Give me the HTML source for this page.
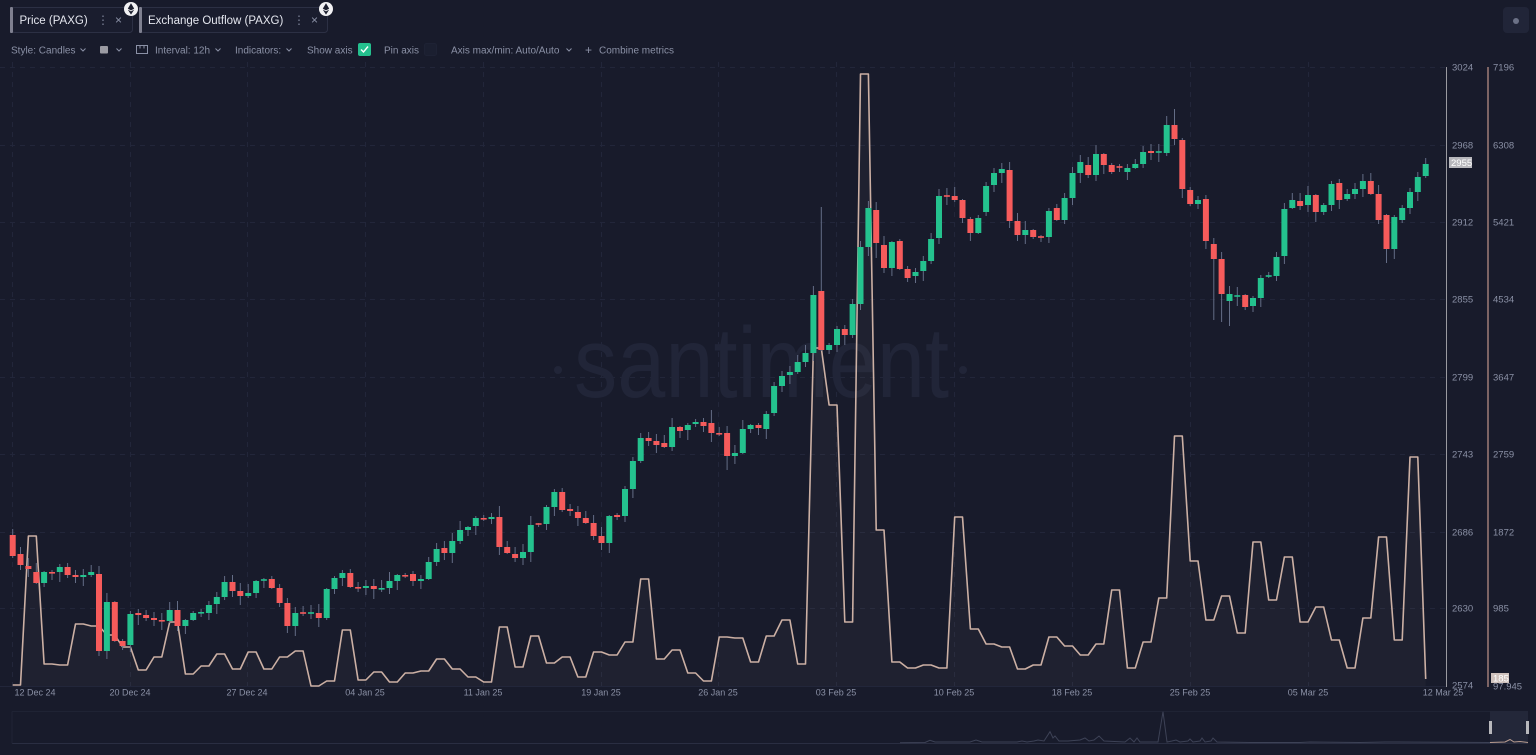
<!DOCTYPE html>
<html><head><meta charset="utf-8">
<style>
html,body{margin:0;padding:0;background:#181b2b;width:1536px;height:755px;overflow:hidden;}
svg text{font-family:"Liberation Sans",Arial,sans-serif;}
</style></head><body>
<svg id="c" width="1536" height="755" viewBox="0 0 1536 755" xmlns="http://www.w3.org/2000/svg" style="position:absolute;left:0;top:0;display:block">
<rect x="0" y="0" width="1536" height="755" fill="#181b2b"/>

<!-- Tabs -->
<rect x="11.5" y="7.5" width="121" height="25" rx="3" fill="#1a1d2e" stroke="#2c3044"/>
<rect x="10" y="7" width="3" height="26" rx="1" fill="#7f8090"/>
<text x="19.5" y="24" font-size="11.5" fill="#e4e6ee">Price (PAXG)</text>
<text x="97" y="24" font-size="12" fill="#7d8398">⋮</text>
<text x="115" y="24" font-size="12" fill="#8b91a6">×</text>
<circle cx="131" cy="9" r="7" fill="#f2f2f4"/>
<polygon points="131,3.2 134.2,8.6 131,10.4 127.8,8.6" fill="#1b1e2e"/>
<polygon points="127.8,9.6 131,11.4 134.2,9.6 131,14.6" fill="#1b1e2e"/>

<rect x="140.5" y="7.5" width="187" height="25" rx="3" fill="#1a1d2e" stroke="#2c3044"/>
<rect x="139" y="7" width="3" height="26" rx="1" fill="#7f8090"/>
<text x="148" y="24" font-size="11.5" fill="#e4e6ee">Exchange Outflow (PAXG)</text>
<text x="293" y="24" font-size="12" fill="#7d8398">⋮</text>
<text x="311" y="24" font-size="12" fill="#8b91a6">×</text>
<circle cx="326" cy="9" r="7" fill="#f2f2f4"/>
<polygon points="326,3.2 329.2,8.6 326,10.4 322.8,8.6" fill="#1b1e2e"/>
<polygon points="322.8,9.6 326,11.4 329.2,9.6 326,14.6" fill="#1b1e2e"/>

<!-- top right button -->
<rect x="1503" y="7" width="26" height="26" rx="4" fill="#212538"/>
<circle cx="1516" cy="21" r="3" fill="#6b7186"/>

<!-- Toolbar row -->
<g font-size="10" fill="#8b91a6">
<text x="11" y="53.5">Style: Candles</text>
<text x="155" y="53.5">Interval: 12h</text>
<text x="235" y="53.5">Indicators:</text>
<text x="307" y="53.5">Show axis</text>
<text x="384" y="53.5">Pin axis</text>
<text x="451" y="53.5">Axis max/min: Auto/Auto</text>
<text x="585" y="54" font-size="12">+</text>
<text x="599" y="53.5">Combine metrics</text>
</g>
<g stroke="#8b91a6" stroke-width="1" fill="none">
<polyline points="80.5,48.5 83,51 85.5,48.5"/>
<polyline points="116.5,48.5 119,51 121.5,48.5"/>
<polyline points="215.5,48.5 218,51 220.5,48.5"/>
<polyline points="286.5,48.5 289,51 291.5,48.5"/>
<polyline points="566.5,48.5 569,51 571.5,48.5"/>
<rect x="136.5" y="45.5" width="11" height="8"/>
<line x1="140" y1="45.5" x2="140" y2="48.5"/>
<line x1="144" y1="45.5" x2="144" y2="48.5"/>
</g>
<rect x="100" y="46" width="8" height="7.5" rx="1" fill="#9b9ba3"/>
<rect x="358" y="43" width="13" height="13" rx="2" fill="#24c08e"/>
<polyline points="361,49.5 363.5,52 368,46.5" stroke="#ffffff" stroke-width="1.4" fill="none"/>
<rect x="424.5" y="43.5" width="12" height="12" rx="2" fill="#1b1f30" stroke="#1e2234"/>

<!-- grid -->
<g id="grid" stroke="#22263a" stroke-width="1" stroke-dasharray="5 5"></g>
<line x1="0" y1="686.5" x2="1446" y2="686.5" stroke="#22263a"/>

<!-- watermark -->
<text x="574" y="397" font-size="100" fill="#212538" textLength="375" lengthAdjust="spacingAndGlyphs">santiment</text>
<circle cx="558" cy="370" r="4" fill="#212538"/>
<circle cx="963" cy="370" r="4" fill="#212538"/>

<g id="area"></g>
<g id="cand"></g>

<!-- axes -->
<line x1="1446.5" y1="67" x2="1446.5" y2="687" stroke="#9a9aa0" stroke-width="1"/>
<line x1="1488" y1="67" x2="1488" y2="687" stroke="#7d6464" stroke-width="2"/>
<g id="labels" font-size="9.5" fill="#8a90a5"></g>

<rect x="1449" y="157" width="23" height="11" fill="#b7b7bc"/>
<text x="1451" y="165.8" font-size="9.5" fill="#ffffff">2955</text>
<rect x="1491" y="673" width="18" height="10" fill="#cfc2bd"/>
<text x="1493" y="681.5" font-size="9.5" fill="#ffffff">185</text>

<!-- navigator -->
<line x1="12" y1="711.5" x2="1528" y2="711.5" stroke="#1f2334"/>
<line x1="12" y1="743.5" x2="1528" y2="743.5" stroke="#2a2e42"/>
<line x1="12" y1="711.5" x2="12" y2="743.5" stroke="#1f2334"/>
<rect x="1490" y="711" width="38" height="32" fill="#232739"/>
<polyline fill="none" stroke="#3d4256" stroke-width="1" points="900,742.7 925,742.5 930,740.3 935,742 970,742 976,740 982,742 1017,742 1022,741 1027,742 1034,741 1038,740 1044,741 1050,731.7 1053,738 1055,736 1059,741 1068,741 1080,740 1085,738 1089,741 1094,740 1099,736 1104,741 1125,742 1130,738 1134,742 1137,738 1140,742 1158,742 1163,711.7 1167,742 1172,741 1176,740 1180,742 1188,741 1190,739 1193,742 1200,741 1202,738 1205,742 1211,741 1213,738 1217,742 1250,742.5 1300,742.5 1310,742 1360,742.5 1385,742 1395,742 1490,742.5"/>
<polyline fill="none" stroke="#b89c90" stroke-width="1" points="1490,742.5 1505,742 1510,739.5 1514,742 1520,741.5 1528,742.5"/>
<rect x="1489" y="721" width="3" height="13" fill="#b8b8bc"/>
<rect x="1526" y="721" width="3" height="13" fill="#b8b8bc"/>
</svg>
<script>
(function(){
var NS="http://www.w3.org/2000/svg";
function el(parent,tag,attrs,txt){var e=document.createElementNS(NS,tag);for(var k in attrs)e.setAttribute(k,attrs[k]);if(txt!==undefined)e.textContent=txt;parent.appendChild(e);return e;}
var grid=document.getElementById('grid');
[67,145,222,299,377,454,532,608].forEach(function(y){el(grid,'line',{x1:0,y1:y+0.5,x2:1446,y2:y+0.5});});
[12,130,247,365,483,601,718,836,954,1072,1190,1308].forEach(function(x){el(grid,'line',{x1:x+0.5,y1:62,x2:x+0.5,y2:686});});

var labels=document.getElementById('labels');
[[3024,67],[2968,145],[2912,222],[2855,299],[2799,377],[2743,454],[2686,532],[2630,608],[2574,685]].forEach(function(p){el(labels,'text',{x:1452,y:p[1]+3.5},String(p[0]));});
[["7196",67],["6308",145],["5421",222],["4534",299],["3647",377],["2759",454],["1872",532],["985",608],["97.945",686]].forEach(function(p){el(labels,'text',{x:1493,y:p[1]+3.5},p[0]);});
[["12 Dec 24",35],["20 Dec 24",130],["27 Dec 24",247],["04 Jan 25",365],["11 Jan 25",483],["19 Jan 25",601],["26 Jan 25",718],["03 Feb 25",836],["10 Feb 25",954],["18 Feb 25",1072],["25 Feb 25",1190],["05 Mar 25",1308],["12 Mar 25",1443]].forEach(function(p){el(labels,'text',{x:p[1],y:695.5,'text-anchor':'middle','font-size':9},p[0]);});

var C=[[535,556],[554,565],[566,569],[572,583],[583,572],[572,573],[572,567],[567,575],[575,577],[577,575],
[575,572],[574,651],[651,602],[602,641],[641,646],[645,614],[613,615],[615,618],[618,620],[620,621],
[621,610],[610,626],[626,620],[620,613],[613,612],[613,605],[604,597],[597,582],[582,591],[591,596],
[596,593],[593,581],[580,580],[579,588],[588,603],[603,626],[626,613],[613,613],[613,613],[613,618],
[618,589],[589,578],[578,573],[573,587],[587,588],[588,586],[586,589],[589,588],[588,581],[581,575],
[575,576],[574,581],[581,579],[579,562],[562,549],[548,553],[553,541],[541,530],[530,527],[526,518],
[518,519],[519,517],[517,547],[547,553],[554,558],[558,552],[552,525],[524,524],[524,507],[507,492],
[492,510],[509,511],[512,518],[518,523],[523,536],[536,543],[543,516],[515,517],[516,489],[489,461],
[461,438],[438,441],[441,445],[443,447],[447,427],[427,431],[430,425],[424,422],[422,426],[423,433],
[433,434],[433,456],[456,453],[453,429],[429,425],[425,428],[429,414],[413,386],[386,376],[375,372],
[372,362],[362,353],[353,295],[291,350],[350,345],[345,329],[329,335],[335,304],[304,247],[247,208],
[210,243],[245,268],[268,242],[241,269],[269,278],[276,272],[271,261],[261,239],[238,196],[196,196],
[196,200],[200,218],[219,233],[233,218],[212,186],[185,173],[173,169],[170,221],[221,235],[235,230],
[230,237],[237,237],[237,211],[208,220],[220,198],[198,173],[173,162],[165,175],[175,154],[154,165],
[165,172],[167,167],[172,168],[168,164],[164,152],[151,153],[152,152],[153,125],[125,139],[140,189],
[190,204],[204,200],[199,241],[244,259],[259,294],[301,294],[296,296],[295,307],[306,298],[298,278],
[276,276],[276,257],[256,209],[208,200],[201,206],[205,195],[195,212],[212,205],[205,184],[183,200],
[199,194],[194,189],[189,181],[181,194],[194,220],[215,249],[249,217],[220,208],[208,192],[192,177],[176,164]];
var L=[685,536,664,665,624,626,635,647,670,657,622,674,666,654,669,652,669,657,651,686,681,630,680,672,682,673,671,659,669,677,682,627,667,636,663,657,677,652,655,642,579,659,650,673,681,637,638,662,636,620,664,348,405,622,74,530,662,668,665,668,517,629,644,647,669,665,637,646,655,644,590,668,642,598,436,561,620,596,633,542,600,557,622,607,640,668,618,537,640,457,679];
function X(i){return 12.7+7.85*i;}
var pts=[];
for(var i=0;i<=180;i++){pts.push(X(i).toFixed(1)+","+L[Math.floor(i/2)]);}
var area=document.getElementById('area');
el(area,'polygon',{points:X(0).toFixed(1)+",686 "+pts.join(" ")+" "+X(180).toFixed(1)+",686",fill:"rgba(205,178,168,0.045)"});
el(area,'polyline',{points:pts.join(" "),fill:"none",stroke:"#ccb0a4","stroke-width":1.6,"stroke-linejoin":"round"});

var WO={103:[207,null],148:[109,null],154:[null,322],155:[null,326],153:[null,320],175:[null,263],110:[null,258],91:[null,470],89:[410,null],62:[506,null],127:[162,228],132:[null,243],152:[195,null]};
var cg=document.getElementById('cand');
for(var i=0;i<C.length;i++){
  var o=C[i][0],c=C[i][1];
  var top=Math.min(o,c),bot=Math.max(o,c);
  var w1=1+((i*37+5)%9), w2=1+((i*53+11)%10);
  var hi=top-w1, lo=bot+w2;
  if(WO[i]){if(WO[i][0]!==null)hi=WO[i][0];if(WO[i][1]!==null)lo=WO[i][1];}
  var x=X(i);
  el(cg,'line',{x1:x.toFixed(1),y1:hi,x2:x.toFixed(1),y2:lo,stroke:"#646d86","stroke-width":1});
  var up=c<o || (c===o && i%2===0);
  var h=Math.max(bot-top,1.6);
  el(cg,'rect',{x:(x-3).toFixed(1),y:(c===o?top-0.8:top),width:6,height:h,fill:up?"#24c28e":"#f65b5b"});
}
})();
</script>
</body></html>
